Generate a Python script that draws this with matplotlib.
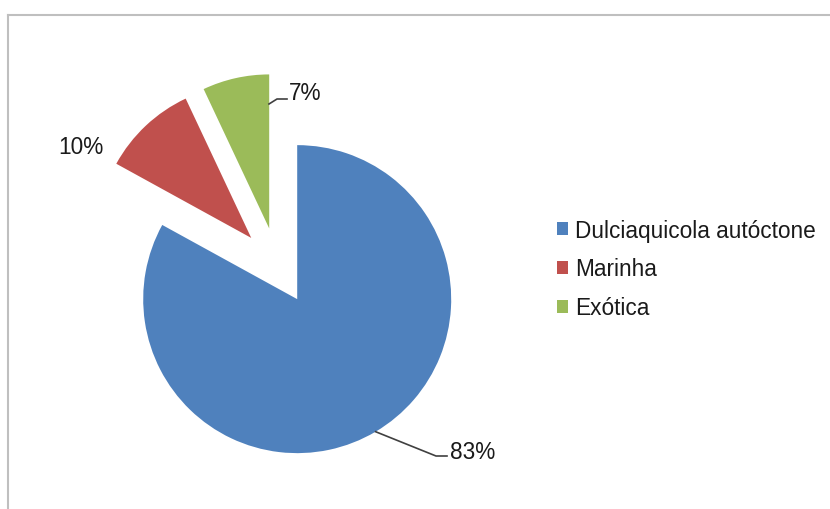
import numpy as np
import matplotlib
matplotlib.use("Agg")
import matplotlib.pyplot as plt
from matplotlib.lines import Line2D

# origem das especies
categorias = ["Dulciaquicola autóctone", "Marinha", "Exótica"]
valores = [83, 10, 7]
cores = ["#4F81BD", "#C0504D", "#9BBB59"]

W, H = 830, 510
CX, CY = 277.6, 267.0   # pie centre, pixels from top-left
R = 154.0               # pie radius in pixels

plt.rcParams['font.family'] = ['Liberation Sans', 'DejaVu Sans']
FS = 16.3
TXT = '#1a1a1a'


def px(x, y):
    # pixel (from top-left) -> data units of the pie axes
    return (x - CX) / R, (CY - y) / R


fig = plt.figure(figsize=(W / 100, H / 100), dpi=100)
ax = fig.add_axes([0, 0, 1, 1])
ax.axis('off')

wedges, _ = ax.pie(valores, colors=cores, startangle=90, counterclock=False,
                   explode=[0.25] * len(valores), radius=1.0,
                   wedgeprops=dict(linewidth=0))
ax.set_aspect('auto')
ax.set_xlim(px(0, 0)[0], px(W, 0)[0])
ax.set_ylim(px(0, H)[1], px(0, 0)[1])

# 83% label with leader line from the middle of the blue arc
w = wedges[0]
mid = np.deg2rad((w.theta1 + w.theta2) / 2)
cx, cy = w.center
a = (cx + np.cos(mid), cy + np.sin(mid))
b = px(436, 457)
c = px(447, 457)
ax.add_line(Line2D([a[0], b[0], c[0]], [a[1], b[1], c[1]], color='#404040', lw=1.2))
ax.text(*px(450, 453), f"{valores[0]}%", fontsize=FS, color=TXT, ha='left', va='center')

# 10% label, no leader
ax.text(*px(103, 148), f"{valores[1]}%", fontsize=FS, color=TXT, ha='right', va='center')

# 7% label with short leader from the right edge of the green slice
p = [px(269, 105), px(277, 100), px(287, 100)]
ax.add_line(Line2D([q[0] for q in p], [q[1] for q in p], color='#404040', lw=1.2))
ax.text(*px(289, 93), f"{valores[2]}%", fontsize=FS, color=TXT, ha='left', va='center')

fig.legend(wedges, categorias, loc='center left',
           bbox_to_anchor=(557 / W, 1 - 270 / H), frameon=False,
           fontsize=FS, labelcolor=TXT, borderpad=0, borderaxespad=0,
           handlelength=0.48, handleheight=0.48, handletextpad=0.3,
           labelspacing=0.7)

# chart area border (top and left visible)
fig.add_artist(Line2D([8 / W, 1], [1 - 16 / H, 1 - 16 / H], transform=fig.transFigure,
                      color='#BFBFBF', lw=1.5))
fig.add_artist(Line2D([8 / W, 8 / W], [0, 1 - 16 / H], transform=fig.transFigure,
                      color='#BFBFBF', lw=1.5))

fig.savefig('out.png', dpi=100)
